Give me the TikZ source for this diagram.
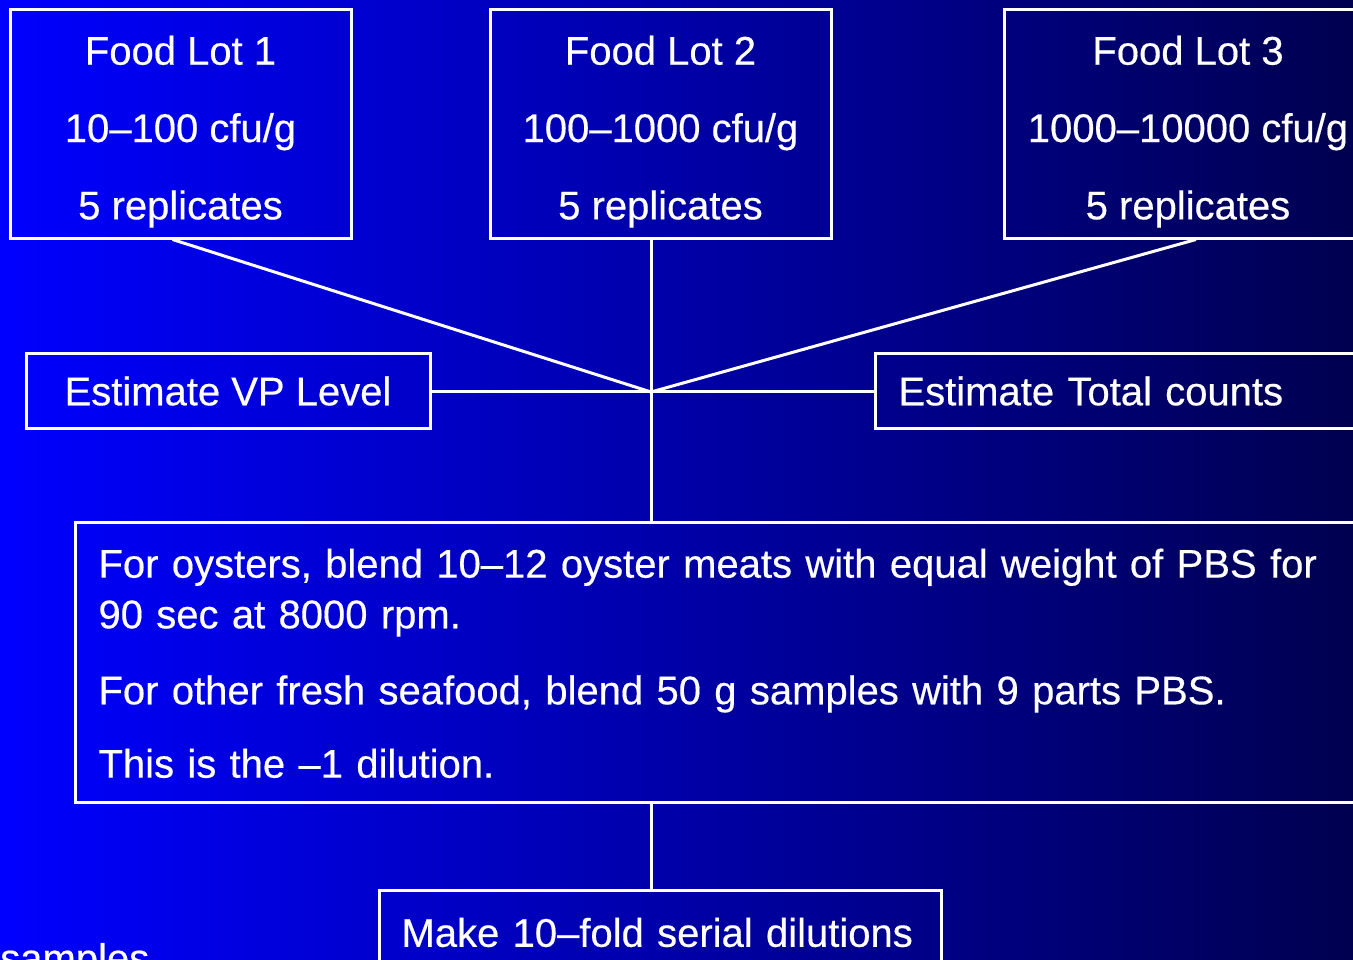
\documentclass[tikz,border=0pt]{standalone}
\usepackage{fontspec}
\setmainfont{Liberation Sans}
\newfontfamily\flowfont{Liberation Sans}[FakeBold=0.4]
\usetikzlibrary{positioning, calc}
\definecolor{bgleft}{RGB}{0,0,255}
\definecolor{bgright}{RGB}{0,0,80}

\begin{document}
\begin{tikzpicture}[x=0.75pt, y=-0.75pt,
  flowbox/.style={draw=white, line width=2.25pt, text=white, inner sep=0pt,
    font=\flowfont\fontsize{30}{58}\selectfont},
  link/.style={draw=white, line width=2.25pt}]
  \useasboundingbox (0,0) rectangle (1353,960);
  \clip (0,0) rectangle (1353,960);
  \shade[left color=bgleft, right color=bgright] (0,0) rectangle (1353,960);
  % Food lots
  \node[flowbox, minimum width=255.75pt, minimum height=171.75pt, align=center] (lot1) at (180.5,123.5) {\rule{0pt}{34pt}Food Lot 1\\10–100 cfu/g\\5 replicates};
  \node[flowbox, minimum width=255.75pt, minimum height=171.75pt, align=center] (lot2) at (660.5,123.5) {\rule{0pt}{34pt}Food Lot 2\\100–1000 cfu/g\\5 replicates};
  \node[flowbox, minimum width=276pt, minimum height=171.75pt, align=center] (lot3) at (1188,123.5) {\rule{0pt}{34pt}Food Lot 3\\1000–10000 cfu/g\\5 replicates};
  % Estimates
  \node[flowbox, minimum width=303pt, minimum height=56.25pt] (vp) at (228,391) {Estimate VP Level};
  \node[flowbox, anchor=west, minimum height=56.25pt, inner xsep=17.25pt, text width=375pt, align=left] (total) at (874,391) {Estimate Total counts};
  % Blending
  \node[flowbox, anchor=north west, minimum height=210pt, inner xsep=17.25pt, text width=975pt, align=left,
    font=\flowfont\fontsize{30}{38}\selectfont] (prep) at (74,521)
    {\rule{0pt}{23pt}For oysters, blend 10–12 oyster meats with equal weight of PBS for\\90 sec at 8000 rpm.\\[19pt]For other fresh seafood, blend 50 g samples with 9 parts PBS.\\[17pt]This is the –1 dilution.};
  % Dilutions
  \node[flowbox, anchor=north west, minimum height=63pt, inner xsep=16.5pt, text width=388.5pt, align=left] (dil) at (378,889) {Make 10–fold serial dilutions};
  \node[text=white, inner sep=0pt, anchor=base west, font=\flowfont\fontsize{30}{36}\selectfont] (samples) at (0,972) {samples};
  % Connectors
  \coordinate (hub) at (651,392);
  \draw[link] ($(lot1.south)+(-8,0)$) -- (hub) -- ($(lot3.south)+(8,0)$);
  \draw[link] (hub |- lot2.south) -- (hub |- prep.north);
  \draw[link] (vp.east) -- (total.west);
  \draw[link] (hub |- prep.south) -- (hub |- dil.north);
\end{tikzpicture}
\end{document}
